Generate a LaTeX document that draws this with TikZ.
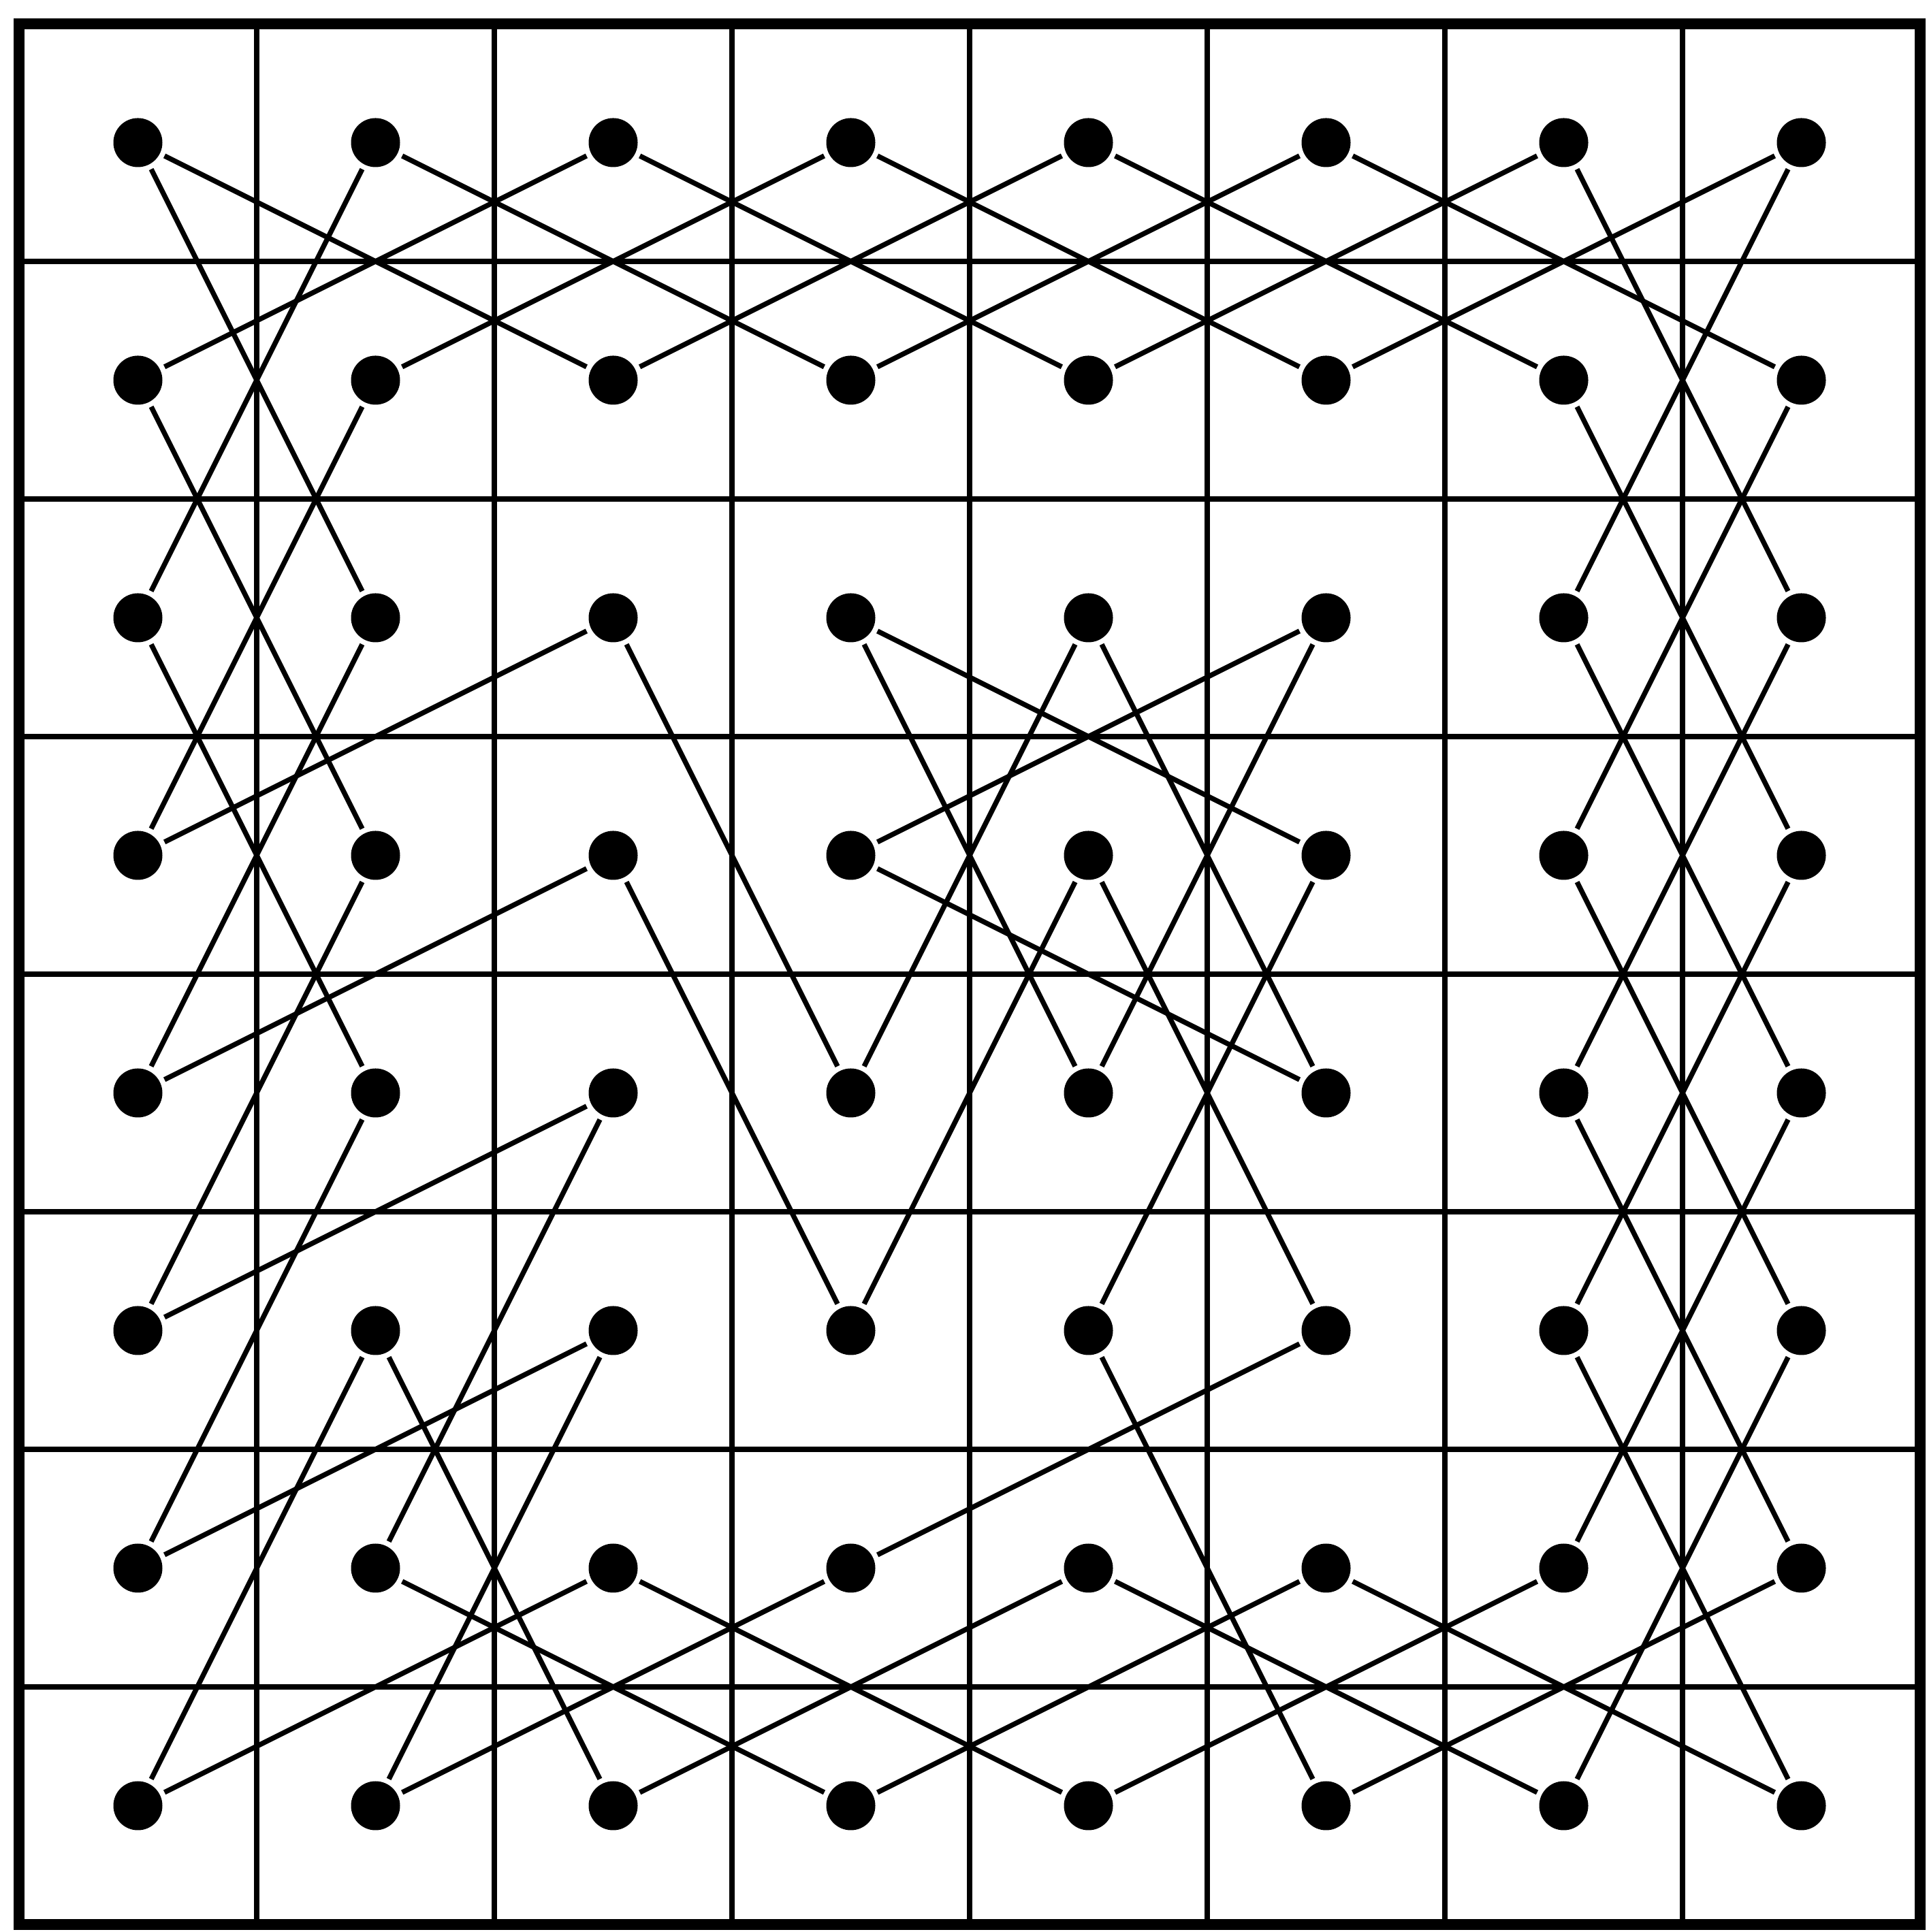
\documentclass[tikz,border=0pt]{standalone}
\usepackage{tikz}
\usetikzlibrary{positioning}

\begin{document}
\begin{tikzpicture}[
    dot/.style={circle, fill=black, inner sep=0pt, minimum size=0.72cm},
    move/.style={line width=2.1pt, shorten <=2pt, shorten >=2pt},
    rule/.style={line width=2.5pt},
    frame/.style={line width=4.8pt}
]
\useasboundingbox (0,0) rectangle (28.33,28.38);
\begin{scope}[shift={(0.28,0.11)}, x=3.49cm, y=3.49cm]
\foreach \i in {1,...,7} {
    \draw[rule] (\i,0) -- (\i,8);
    \draw[rule] (0,\i) -- (8,\i);
}
\draw[frame] (0,0) rectangle (8,8);
\foreach \c in {1,...,8}
    \foreach \r in {1,...,8}
        \node[dot] (d\c\r) at (\c-0.5, 8.5-\r) {};
\foreach \a/\b in {11/32, 11/23, 21/42, 21/13, 31/12, 31/52, 41/22, 41/62,
    51/32, 51/72, 61/42, 61/82, 71/52, 71/83, 81/62, 81/73,
    12/24, 22/14, 72/84, 82/74,
    13/25, 23/15, 33/14, 33/45, 43/64, 43/55, 53/45, 53/65, 63/44, 63/55, 73/85, 83/75,
    24/16, 34/15, 34/46, 44/65, 54/46, 54/66, 64/56, 74/86, 84/76,
    25/17, 35/16, 35/27, 75/87, 85/77,
    26/18, 26/38, 36/17, 36/28, 56/68, 66/47, 76/88, 86/78,
    27/48, 37/18, 37/58, 47/28, 57/38, 57/78, 67/48, 67/88, 77/58, 87/68}
    \draw[move] (d\a) -- (d\b);
\end{scope}
\end{tikzpicture}
\end{document}
